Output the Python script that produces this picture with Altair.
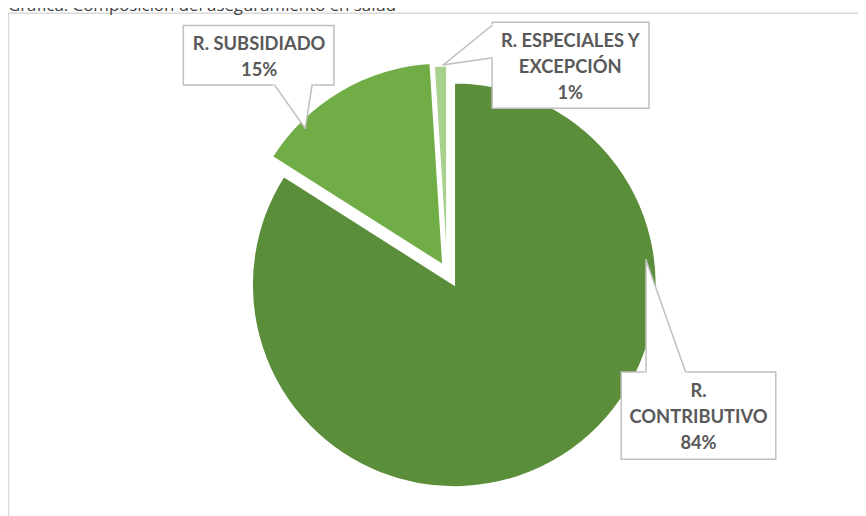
import math
import altair as alt
import pandas as pd

# ---------------- data ----------------
TITLE = "Gráfica: Composición del aseguramiento en salud"
CATEGORIES = ["R. CONTRIBUTIVO", "R. SUBSIDIADO", "R. ESPECIALES Y EXCEPCIÓN"]
LABEL_NAMES = ["R.\nCONTRIBUTIVO", "R. SUBSIDIADO", "R. ESPECIALES Y\nEXCEPCIÓN"]
SHARES = [84, 15, 1]

# ---------------- style / layout ----------------
COLORS = ["#5B8E3A", "#70AD47", "#A9D18E"]
W, H = 858, 508
CX, CY, R = 450.5, 277, 204
EXPLODE_DX = [0, -11.5, -7.5]
EXPLODE_DY = [0, -20, -17]
LABEL_X = [697, 253.5, 567.5]
LABEL_Y = [384, 34, 30.5]          # centre of first text line
BOXES = [(619, 365, 775, 453), (177, 15.3, 329, 75.3), (488.7, 12, 647, 98.7)]
# callout wedges: tip, base point A, base point B
TIPS = [(644, 252), (300, 119), (439.5, 55)]
BASE_A = [(644, 365), (269, 75.3), (488.7, 15)]
BASE_B = [(684, 365), (307, 75.3), (488.7, 48)]
BOX_STROKE = "#BFBFBF"
FRAME = "#D9D9D9"

pie = pd.DataFrame({
    "cat": CATEGORIES,
    "share": SHARES,
    "order": list(range(len(CATEGORIES))),
    "dx": EXPLODE_DX,
    "dy": EXPLODE_DY,
})

arcs = (
    alt.Chart(pie)
    .transform_window(end="sum(share)", sort=[alt.SortField("order")], frame=[None, 0])
    .transform_calculate(start="datum.end - datum.share",
                         cx=f"{CX} + datum.dx", cy=f"{CY} + datum.dy")
    .mark_arc(radius=R, stroke="white", strokeWidth=1.5)
    .encode(
        theta=alt.Theta("start:Q", stack=None,
                        scale=alt.Scale(domain=[0, 100], range=[0, 2 * math.pi])),
        theta2="end:Q",
        x=alt.X("cx:Q", scale=None, axis=None),
        y=alt.Y("cy:Q", scale=None, axis=None),
        color=alt.Color("cat:N", scale=alt.Scale(domain=CATEGORIES, range=COLORS), legend=None),
    )
)

# white wedge fills of the callouts
wedge_rows = []
for i in range(3):
    tx, ty = TIPS[i]
    ax, ay = BASE_A[i]
    bx, by = BASE_B[i]
    if i == 0:      # tip above, base below
        wedge_rows += [dict(id=i, x=tx, y=ty, y2=ay), dict(id=i, x=bx, y=by, y2=by)]
    elif i == 1:    # tip below base
        wedge_rows += [dict(id=i, x=ax, y=ay, y2=ay), dict(id=i, x=tx, y=ay, y2=ty),
                       dict(id=i, x=bx, y=by, y2=by)]
    else:           # tip to the left
        wedge_rows += [dict(id=i, x=tx, y=ty, y2=ty), dict(id=i, x=ax, y=ay, y2=by)]
wedges = alt.Chart(pd.DataFrame(wedge_rows)).mark_area(color="white", opacity=1, interpolate="linear").encode(
    x=alt.X("x:Q", scale=None, axis=None),
    y=alt.Y("y:Q", scale=None, axis=None),
    y2="y2:Q",
    detail="id:N",
)

boxes_df = pd.DataFrame([dict(x=b[0], y=b[1], x2=b[2], y2=b[3]) for b in BOXES])
boxes = alt.Chart(boxes_df).mark_rect(fill="white", stroke=BOX_STROKE, strokeWidth=1.5).encode(
    x=alt.X("x:Q", scale=None, axis=None), x2="x2:Q",
    y=alt.Y("y:Q", scale=None, axis=None), y2="y2:Q",
)

# lines: frame, openings (white), wedge outlines
rule_rows = [
    dict(x=0.5, y=3, x2=0.5, y2=H + 5, c=FRAME, w=1.5),
    dict(x=0.5, y=3, x2=W + 5, y2=3, c=FRAME, w=1.5),
]
for i in range(3):
    rule_rows.append(dict(x=BASE_A[i][0], y=BASE_A[i][1], x2=BASE_B[i][0], y2=BASE_B[i][1], c="white", w=2.5))
for i in range(3):
    rule_rows.append(dict(x=TIPS[i][0], y=TIPS[i][1], x2=BASE_A[i][0], y2=BASE_A[i][1], c=BOX_STROKE, w=1.5))
    rule_rows.append(dict(x=TIPS[i][0], y=TIPS[i][1], x2=BASE_B[i][0], y2=BASE_B[i][1], c=BOX_STROKE, w=1.5))
rules = alt.Chart(pd.DataFrame(rule_rows)).mark_rule(strokeCap="square").encode(
    x=alt.X("x:Q", scale=None, axis=None), x2="x2:Q",
    y=alt.Y("y:Q", scale=None, axis=None), y2="y2:Q",
    color=alt.Color("c:N", scale=None),
    strokeWidth=alt.StrokeWidth("w:Q", scale=None),
)

labels_df = pd.DataFrame({
    "x": LABEL_X, "y": LABEL_Y,
    "t": [f"{n}\n{v}%" for n, v in zip(LABEL_NAMES, SHARES)],
})
labels = alt.Chart(labels_df).mark_text(
    font="Lato", fontWeight="bold", fontSize=18.5, color="#595959",
    lineBreak="\n", lineHeight=26.5, align="center", baseline="middle",
).encode(
    x=alt.X("x:Q", scale=None, axis=None),
    y=alt.Y("y:Q", scale=None, axis=None),
    text="t:N",
)

title = alt.Chart(pd.DataFrame({"t": [TITLE]})).mark_text(
    font="Open Sans", fontSize=17, color="#404040", align="left", baseline="alphabetic",
).encode(
    x=alt.value(0), y=alt.value(1), text="t:N",
)

chart = (
    alt.layer(arcs, wedges, boxes, rules, labels, title)
    .properties(width=W, height=H, autosize=alt.AutoSizeParams(type="none"), padding=0,
                background="white")
    .configure_view(stroke=None)
)

chart.save("out.html", embed_options={"renderer": "svg", "actions": False})
